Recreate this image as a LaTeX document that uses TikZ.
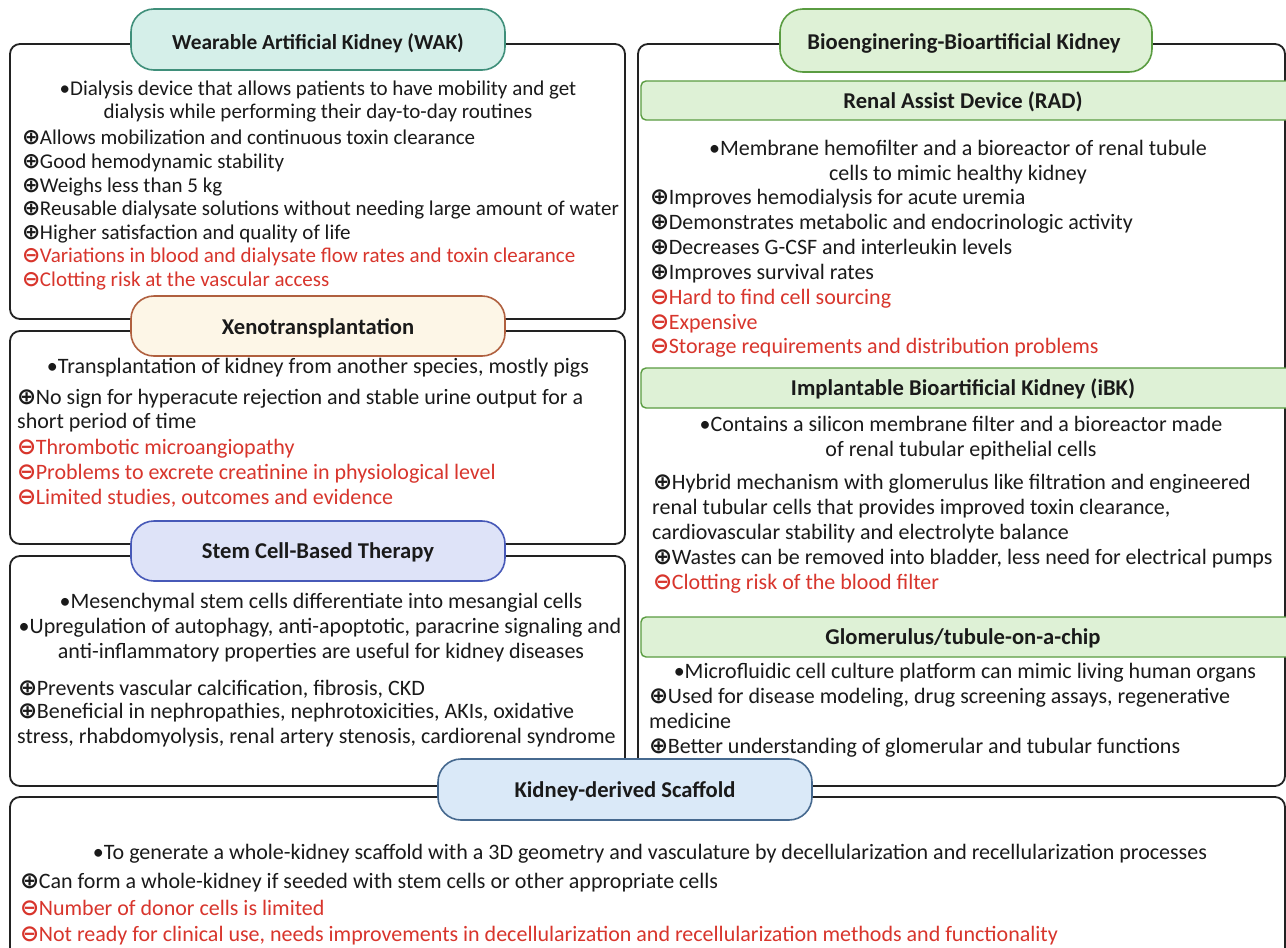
\documentclass[tikz,border=0pt]{standalone}
\usepackage{fontspec}
\setmainfont{Carlito}
\newfontfamily\symf{DejaVu Sans}[Scale=1.04]
\definecolor{redt}{HTML}{D8352C}
\definecolor{txtc}{HTML}{1A1A1A}
\definecolor{boxc}{HTML}{222222}
\definecolor{wakf}{HTML}{D5EFE9}
\definecolor{wakb}{HTML}{3F8F7A}
\definecolor{xenf}{HTML}{FDF6E7}
\definecolor{xenb}{HTML}{B0603F}
\definecolor{stmf}{HTML}{DEE3F8}
\definecolor{stmb}{HTML}{4759B8}
\definecolor{biof}{HTML}{DEF1D6}
\definecolor{biob}{HTML}{5A9C41}
\definecolor{scff}{HTML}{DAE9F8}
\definecolor{scfb}{HTML}{46698F}
\newcommand\plusS{{\symf\bfseries ⊕}\kern-0.5pt}
\newcommand\minusS{{\symf\bfseries ⊖}\kern-0.5pt}
\tikzset{
  box/.style={draw=boxc, line width=1.8pt, rounded corners=10pt},
  pill/.style={line width=1.6pt, rounded corners=23pt},
  bar/.style={draw=biob, fill=biof, line width=1.4pt, rounded corners=5pt},
  tl/.style={anchor=base west, inner sep=0pt, font=\fontsize{22}{24}\selectfont, text=txtc},
  tlw/.style={tl, font=\fontsize{21}{23}\selectfont},
  tcn/.style={tl, anchor=base},
  tcw/.style={tlw, anchor=base},
  rl/.style={tl, text=redt},
  rlw/.style={tlw, text=redt},
  ttl/.style={anchor=base, inner sep=0pt, font=\fontsize{22.6}{24}\selectfont\bfseries, text=txtc},
  ttlw/.style={ttl, font=\fontsize{21.4}{23}\selectfont\bfseries}
}
\begin{document}
\begin{tikzpicture}[x=1pt,y=-1pt]
\useasboundingbox (0,0) rectangle (1286,948);
\fill[white] (0,0) rectangle (1286,948);

% ---------- boxes ----------
\draw[box] (10,44) rectangle (625,319);
\draw[box] (10,331) rectangle (625,544);
\draw[box] (10,556) rectangle (625,786);
\draw[box] (638,44) rectangle (1285,786);
\draw[box] (10,797) rectangle (1285,970);

% ---------- WAK ----------
\draw[pill, draw=wakb, fill=wakf] (131,9) rectangle (505,70);
\node[ttlw] (wakT) at (318,49) {Wearable Artificial Kidney (WAK)};
\node[tcw] (w1) at (318,95) {•Dialysis device that allows patients to have mobility and get};
\node[tcw] (w2) at (318,118) {dialysis while performing their day-to-day routines};
\node[tlw] (w3) at (22,144) {\plusS Allows mobilization and continuous toxin clearance};
\node[tlw] (w4) at (22,168) {\plusS Good hemodynamic stability};
\node[tlw] (w5) at (22,192) {\plusS Weighs less than 5 kg};
\node[tlw] (w6) at (22,215) {\plusS Reusable dialysate solutions without needing large amount of water};
\node[tlw] (w7) at (22,239) {\plusS Higher satisfaction and quality of life};
\node[rlw] (w8) at (22,262) {\minusS Variations in blood and dialysate flow rates and toxin clearance};
\node[rlw] (w9) at (22,286) {\minusS Clotting risk at the vascular access};

% ---------- Xeno ----------
\draw[pill, draw=xenb, fill=xenf] (131,296) rectangle (505,356);
\node[ttl] (xT) at (318,334) {Xenotransplantation};
\node[tcn] (x1) at (318,373) {•Transplantation of kidney from another species, mostly pigs};
\node[tl] (x2) at (17,404) {\plusS No sign for hyperacute rejection and stable urine output for a};
\node[tl] (x3) at (17,428) {short period of time};
\node[rl] (x4) at (17,454) {\minusS Thrombotic microangiopathy};
\node[rl] (x5) at (17,479) {\minusS Problems to excrete creatinine in physiological level};
\node[rl] (x6) at (17,504) {\minusS Limited studies, outcomes and evidence};

% ---------- Stem ----------
\draw[pill, draw=stmb, fill=stmf] (131,521) rectangle (505,581);
\node[ttl] (sT) at (318,558) {Stem Cell-Based Therapy};
\node[tcn] (s1) at (321,608) {•Mesenchymal stem cells differentiate into mesangial cells};
\node[tcn] (s2) at (320,633) {•Upregulation of autophagy, anti-apoptotic, paracrine signaling and};
\node[tcn] (s3) at (321,658) {anti-inflammatory properties are useful for kidney diseases};
\node[tl] (s4) at (18,695) {\plusS Prevents vascular calcification, fibrosis, CKD};
\node[tl] (s5) at (18,718) {\plusS Beneficial in nephropathies, nephrotoxicities, AKIs, oxidative};
\node[tl] (s6) at (17,743) {stress, rhabdomyolysis, renal artery stenosis, cardiorenal syndrome};

% ---------- Bio ----------
\draw[pill, draw=biob, fill=biof] (780,9) rectangle (1152,72);
\node[ttl] (bT) at (964,49) {Bioenginering-Bioartificial Kidney};

\draw[bar] (641,81) rectangle (1295,120);
\node[ttl] (rT) at (963,108) {Renal Assist Device (RAD)};
\node[tcn] (r1) at (958,155) {•Membrane hemofilter and a bioreactor of renal tubule};
\node[tcn] (r2) at (958,180) {cells to mimic healthy kidney};
\node[tl] (r3) at (650,204) {\plusS Improves hemodialysis for acute uremia};
\node[tl] (r4) at (650,229) {\plusS Demonstrates metabolic and endocrinologic activity};
\node[tl] (r5) at (650,254) {\plusS Decreases G-CSF and interleukin levels};
\node[tl] (r6) at (650,279) {\plusS Improves survival rates};
\node[rl] (r7) at (650,304) {\minusS Hard to find cell sourcing};
\node[rl] (r8) at (650,329) {\minusS Expensive};
\node[rl] (r9) at (650,353) {\minusS Storage requirements and distribution problems};

\draw[bar] (641,368) rectangle (1295,408);
\node[ttl] (iT) at (963,395) {Implantable Bioartificial Kidney (iBK)};
\node[tcn] (i1) at (961,431) {•Contains a silicon membrane filter and a bioreactor made};
\node[tcn] (i2) at (961,456) {of renal tubular epithelial cells};
\node[tl] (i3) at (653,489) {\plusS Hybrid mechanism with glomerulus like filtration and engineered};
\node[tl] (i4) at (652,514) {renal tubular cells that provides improved toxin clearance,};
\node[tl] (i5) at (652,539) {cardiovascular stability and electrolyte balance};
\node[tl] (i6) at (653,564) {\plusS Wastes can be removed into bladder, less need for electrical pumps};
\node[rl] (i7) at (653,589) {\minusS Clotting risk of the blood filter};

\draw[bar] (641,617) rectangle (1295,657);
\node[ttl] (gT) at (963,644) {Glomerulus/tubule-on-a-chip};
\node[tcn] (g1) at (965,678) {•Microfluidic cell culture platform can mimic living human organs};
\node[tl] (g2) at (649,703) {\plusS Used for disease modeling, drug screening assays, regenerative};
\node[tl] (g3) at (649,728) {medicine};
\node[tl] (g4) at (649,753) {\plusS Better understanding of glomerular and tubular functions};

% ---------- Scaffold ----------
\draw[pill, draw=scfb, fill=scff] (438,759) rectangle (812,820);
\node[ttl] (kT) at (625,797) {Kidney-derived Scaffold};
\node[tcn] (k1) at (650,859) {•To generate a whole-kidney scaffold with a 3D geometry and vasculature by decellularization and recellularization processes};
\node[tl] (k2) at (20,888) {\plusS Can form a whole-kidney if seeded with stem cells or other appropriate cells};
\node[rl] (k3) at (20,915) {\minusS Number of donor cells is limited};
\node[rl] (k4) at (20,941) {\minusS Not ready for clinical use, needs improvements in decellularization and recellularization methods and functionality};
\end{tikzpicture}
\end{document}
